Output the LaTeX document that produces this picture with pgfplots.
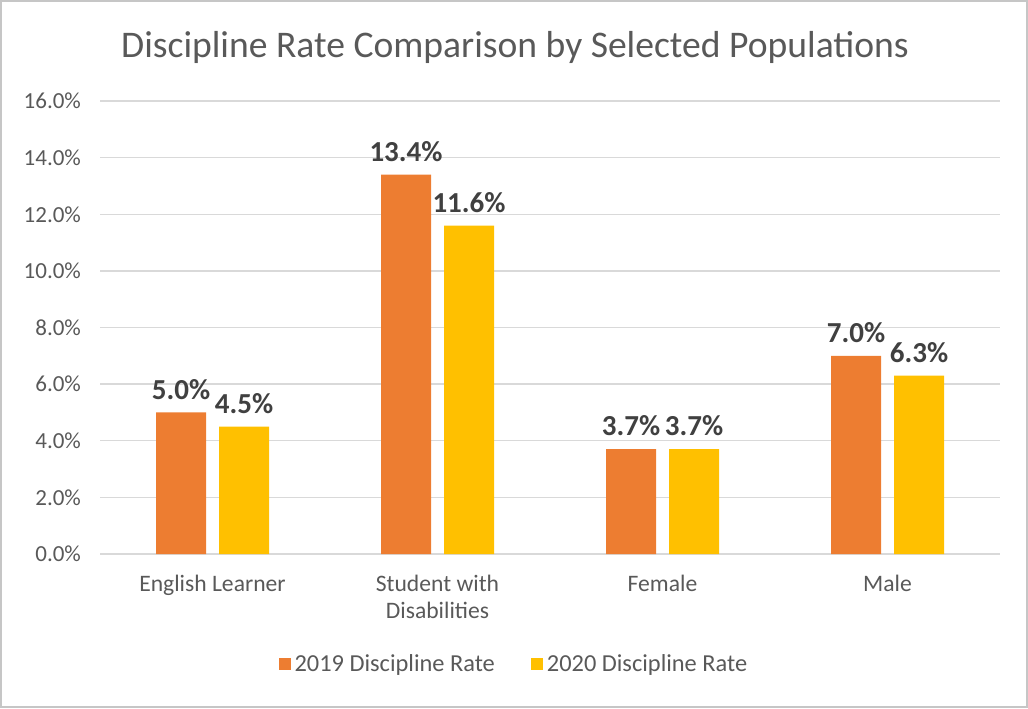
\documentclass[border=0pt]{standalone}
\usepackage{pgfplots}
\pgfplotsset{compat=1.18}
\usepackage{fontspec}
\setmainfont{Carlito}

\definecolor{c2019}{HTML}{ED7D31}
\definecolor{c2020}{HTML}{FFC000}
\definecolor{txt}{HTML}{595959}
\definecolor{lbl}{HTML}{404040}
\definecolor{gridc}{HTML}{D9D9D9}

\begin{document}
\begin{tikzpicture}
  % frame of the chart area
  \path[use as bounding box] (0,0) rectangle (514pt,354pt);
  \draw[gray!45, line width=0.8pt] (0.5pt,0.5pt) rectangle (513.5pt,353.5pt);
  \node[text=txt, font=\fontsize{18.8}{22}\selectfont] at (257.5pt,330.5pt)
    {Discipline Rate Comparison by Selected Populations};

  \begin{axis}[
    at={(50pt,77pt)}, anchor=south west,
    scale only axis,
    width=450pt, height=226.5pt,
    ybar,
    bar width=25pt,
    xmin=-0.5, xmax=3.5,
    ymin=0, ymax=16,
    xtick={0,1,2,3},
    xticklabels={English Learner, {Student with\\Disabilities}, Female, Male},
    xticklabel style={align=center, text=txt, font=\fontsize{11.8}{13.6}\selectfont, yshift=-7pt},
    ytick={0,2,...,16},
    yticklabel={\pgfmathprintnumber[fixed,fixed zerofill,precision=1]{\tick}\%},
    yticklabel style={text=txt, font=\fontsize{11.5}{13.5}\selectfont, xshift=-6pt},
    /pgf/number format/assume math mode=true,
    major tick length=0pt,
    axis line style={draw=none},
    ymajorgrids,
    grid style={gridc, line width=0.7pt},
    nodes near coords={\pgfmathprintnumber[fixed,fixed zerofill,precision=1]{\pgfplotspointmeta}\%},
    nodes near coords style={font=\bfseries\fontsize{14.5}{16}\selectfont, text=lbl, yshift=3pt},
    legend columns=2,
    legend style={at={(0.461,-0.243)}, anchor=center, draw=none, fill=none,
      font=\fontsize{12.2}{14}\selectfont, text=txt,
      /tikz/every even column/.append style={column sep=16pt}},
    legend image code/.code={\fill[#1] (0pt,-3pt) rectangle (6pt,3pt);},
  ]
    \addplot[fill=c2019, draw=none, bar shift=-15.75pt] coordinates {
      (0,5.0) (1,13.4) (2,3.7) (3,7.0)
    };
    \addlegendentry{2019 Discipline Rate}
    \addplot[fill=c2020, draw=none, bar shift=15.75pt] coordinates {
      (0,4.5) (1,11.6) (2,3.7) (3,6.3)
    };
    \addlegendentry{2020 Discipline Rate}
  \end{axis}
\end{tikzpicture}
\end{document}
